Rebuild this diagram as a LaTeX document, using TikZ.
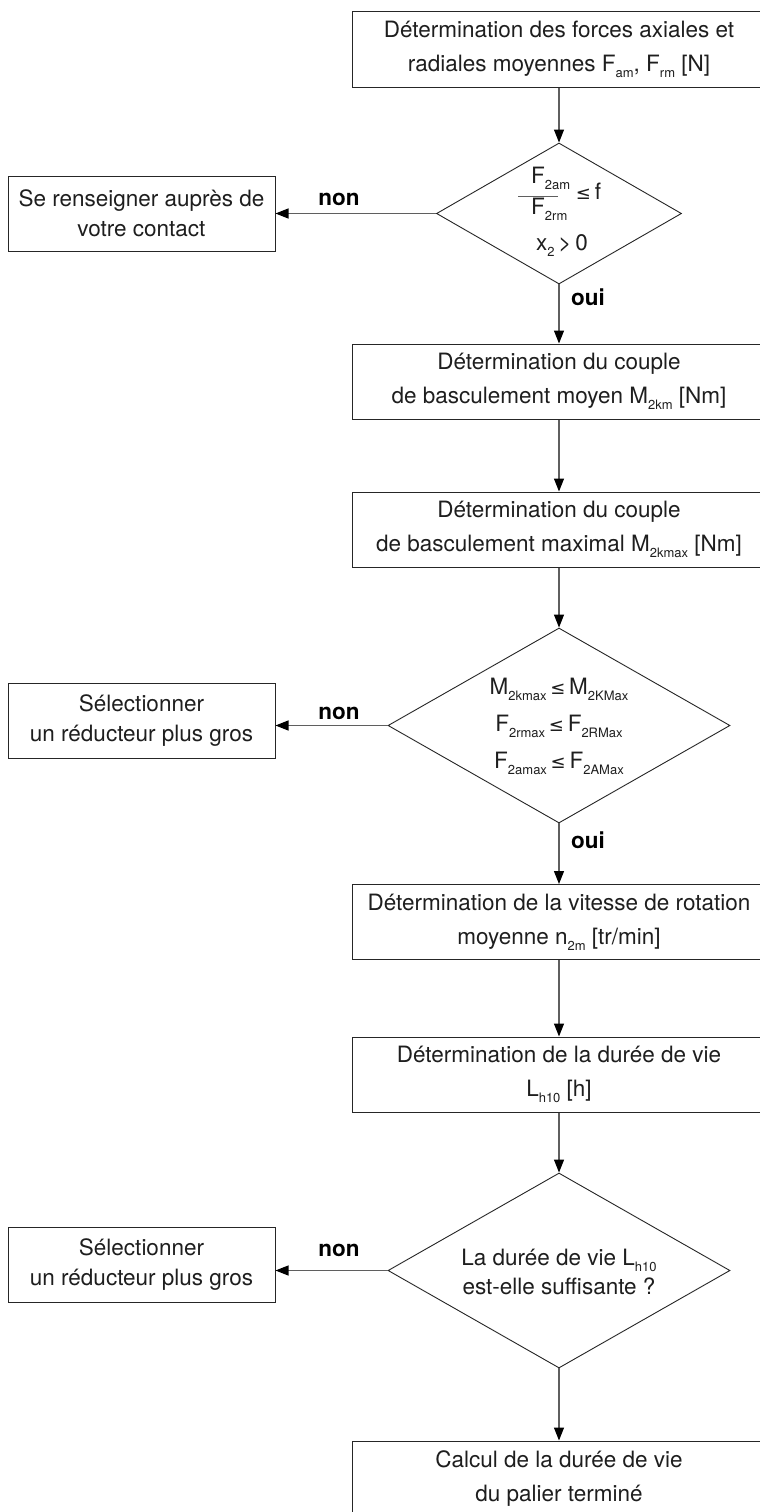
\documentclass[tikz,border=0pt]{standalone}
\usepackage{fontspec}
\setmainfont{TeX Gyre Heros}
\newfontfamily\dvsfont{DejaVu Sans}
\usetikzlibrary{arrows.meta,shapes.geometric}

% lowered small index, as in F_am
\newcommand\lowidx[1]{\raisebox{-6pt}{\fontsize{13}{13}\selectfont #1}}
% "less or equal" sign taken from DejaVu Sans
\newcommand\leqsign{\,{\dvsfont\fontsize{18}{18}\selectfont ≤}\,}

\definecolor{conn}{RGB}{95,95,95}
\definecolor{ink}{RGB}{30,30,30}

\begin{document}
\begin{tikzpicture}[
  x=1pt, y=-1pt,
  stepbox/.style={draw=black!85, line width=1pt, minimum width=413pt,
    minimum height=75pt, inner sep=0pt, align=center, text=ink,
    font=\fontsize{22.5}{34}\selectfont},
  sidebox/.style={draw=black!85, line width=1pt, minimum width=267pt,
    minimum height=75pt, inner sep=0pt, align=center, text=ink,
    font=\fontsize{22.5}{30}\selectfont},
  decision/.style={diamond, draw=black!85, line width=0.9pt, inner sep=0pt},
  dtext/.style={inner sep=0pt, align=center, text=ink,
    font=\fontsize{22.5}{30}\selectfont},
  flow/.style={draw=conn, line width=1.2pt,
    -{Triangle[length=13pt,width=10pt,color=black]}},
  ans/.style={inner sep=0pt, text=black, font=\bfseries\fontsize{22.5}{27}\selectfont}
]
\useasboundingbox (0,0) rectangle (760,1512);
\fill[white] (0,0) rectangle (760,1512);
\clip (0,0) rectangle (760,1512);

% main column
\node[stepbox] (b1) at (559,49.5)
  {Détermination des forces axiales et\\radiales moyennes F\lowidx{am}, F\lowidx{rm} [N]};

\node[decision, minimum width=245pt, minimum height=141pt] (d1) at (559,213.5) {};
% ratio F_2am / F_2rm <= f
\node[dtext, anchor=base west] (d1num) at (531,183) {F\lowidx{2am}};
\node[dtext, anchor=base west] (d1den) at (531,214) {F\lowidx{2rm}};
\coordinate (barL) at (518,196);
\coordinate (barR) at (558,196);
\draw[draw=conn, line width=1pt] (barL) -- (barR);
\node[dtext, anchor=base west] (d1leq) at (572,199) {\leqsign f};
\node[dtext, anchor=base] (d1cond) at (562,250) {x\lowidx{2}\,>\,0};

\node[sidebox] (l1) at (141.5,213.5) {Se renseigner auprès de\\votre contact};

\node[stepbox] (b2) at (559,381.5)
  {Détermination du couple\\de basculement moyen M\lowidx{2km} [Nm]};
\node[stepbox] (b3) at (559,529.5)
  {Détermination du couple\\de basculement maximal M\lowidx{2kmax} [Nm]};

\node[decision, minimum width=342pt, minimum height=195pt] (d2) at (559,725.5) {};
\node[dtext, font=\fontsize{22.5}{37}\selectfont] (d2txt) at (559,726)
  {M\lowidx{2kmax}\leqsign M\lowidx{2KMax}\\
   F\lowidx{2rmax}\leqsign F\lowidx{2RMax}\\
   F\lowidx{2amax}\leqsign F\lowidx{2AMax}};

\node[sidebox] (l2) at (141.5,720.5) {Sélectionner\\un réducteur plus gros};

\node[stepbox] (b4) at (559,922)
  {Détermination de la vitesse de rotation\\moyenne n\lowidx{2m} [tr/min]};
\node[stepbox] (b5) at (559,1074.5)
  {Détermination de la durée de vie\\L\lowidx{h10} [h]};

\node[decision, minimum width=342pt, minimum height=195pt] (d3) at (559,1270.5) {};
\node[dtext, font=\fontsize{22.5}{29}\selectfont] (d3txt) at (559,1272)
  {La durée de vie L\lowidx{h10}\\est-elle suffisante ?};

\node[sidebox] (l3) at (141.5,1264.5) {Sélectionner\\un réducteur plus gros};

\node[stepbox] (b6) at (559,1478.5)
  {Calcul de la durée de vie\\du palier terminé};

% connectors
\draw[flow] (b1.south) -- (d1.north);
\draw[flow] (d1.south) -- (b2.north);
\draw[flow] (b2.south) -- (b3.north);
\draw[flow] (b3.south) -- (d2.north);
\draw[flow] (d2.south) -- (b4.north);
\draw[flow] (b4.south) -- (b5.north);
\draw[flow] (b5.south) -- (d3.north);
\draw[flow] (d3.south) -- (b6.north);

\draw[flow] (d1.west) -- (d1.west -| l1.east);
\draw[flow] (d2.west) -- (d2.west -| l2.east);
\draw[flow] (d3.west) -- (d3.west -| l3.east);

% branch labels
\node[ans] (non1) at (339,199) {non};
\node[ans] (non2) at (339,713) {non};
\node[ans] (non3) at (339,1250) {non};
\node[ans, anchor=west] (oui1) at (571,297) {oui};
\node[ans, anchor=west] (oui2) at (571,840) {oui};
\end{tikzpicture}
\end{document}
